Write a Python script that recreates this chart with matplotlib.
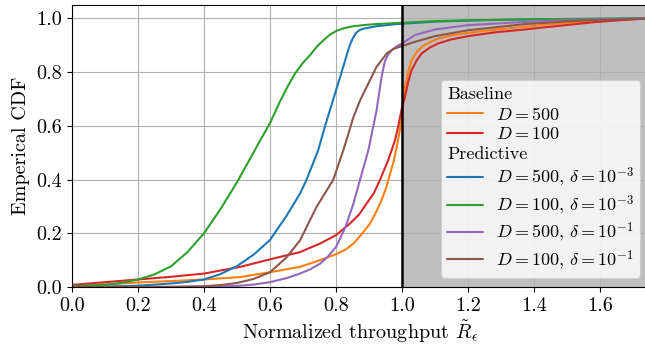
import matplotlib
matplotlib.use("Agg")
import matplotlib.pyplot as plt
from matplotlib.lines import Line2D

plt.rcParams['font.family'] = 'serif'
plt.rcParams['font.serif'] = ['cmr10', 'DejaVu Serif']
plt.rcParams['mathtext.fontset'] = 'cm'
plt.rcParams['axes.formatter.use_mathtext'] = True
plt.rcParams['font.size'] = 14

# ---- data ----
x_orange = [0.0, 0.1, 0.2, 0.3, 0.4, 0.51, 0.6, 0.645, 0.691, 0.752, 0.8, 0.83, 0.853, 0.88, 0.903, 0.922,
            0.938, 0.952, 0.964, 0.975, 0.984, 0.993, 1.0, 1.009, 1.019, 1.029, 1.045, 1.06, 1.085, 1.11,
            1.15, 1.2, 1.28, 1.373, 1.45, 1.54, 1.65, 1.75]
y_orange = [0.003, 0.01, 0.017, 0.022, 0.028, 0.037, 0.055, 0.065, 0.075, 0.1, 0.122, 0.14, 0.162, 0.2,
            0.236, 0.28, 0.323, 0.37, 0.422, 0.47, 0.522, 0.58, 0.64, 0.745, 0.8, 0.845, 0.875, 0.894,
            0.912, 0.925, 0.937, 0.946, 0.958, 0.969, 0.979, 0.987, 0.995, 1.0]

x_red = [0.0, 0.1, 0.2, 0.3, 0.4, 0.51, 0.6, 0.691, 0.752, 0.8, 0.842, 0.87, 0.893, 0.915, 0.933, 0.958,
         0.979, 0.989, 1.0, 1.009, 1.019, 1.029, 1.045, 1.06, 1.085, 1.11, 1.15, 1.2, 1.28, 1.373, 1.44,
         1.52, 1.59, 1.67, 1.75]
y_red = [0.008, 0.018, 0.028, 0.038, 0.05, 0.075, 0.103, 0.13, 0.162, 0.193, 0.236, 0.27, 0.311, 0.35,
         0.398, 0.472, 0.547, 0.6, 0.67, 0.708, 0.765, 0.807, 0.845, 0.87, 0.892, 0.907, 0.922, 0.934,
         0.948, 0.959, 0.968, 0.978, 0.987, 0.994, 1.0]

x_blue = [0.0, 0.1, 0.2, 0.3, 0.35, 0.4, 0.45, 0.5, 0.55, 0.6, 0.65, 0.691, 0.711, 0.746, 0.767, 0.792,
          0.817, 0.828, 0.837, 0.845, 0.853, 0.86, 0.868, 0.878, 0.888, 0.923, 0.984, 1.1, 1.2, 1.4, 1.75]
y_blue = [0.001, 0.002, 0.005, 0.013, 0.019, 0.028, 0.048, 0.078, 0.12, 0.175, 0.265, 0.348, 0.4, 0.509,
          0.6, 0.7, 0.8, 0.845, 0.882, 0.91, 0.931, 0.945, 0.954, 0.96, 0.963, 0.971, 0.979, 0.988, 0.992,
          0.997, 1.0]

x_green = [0.0, 0.1, 0.15, 0.2, 0.25, 0.3, 0.35, 0.4, 0.45, 0.5, 0.565, 0.6, 0.63, 0.655, 0.676, 0.7,
           0.721, 0.742, 0.762, 0.782, 0.802, 0.825, 0.853, 0.89, 0.923, 1.0, 1.1, 1.2, 1.4, 1.75]
y_green = [0.003, 0.008, 0.015, 0.028, 0.047, 0.077, 0.13, 0.2, 0.29, 0.39, 0.534, 0.61, 0.69, 0.75, 0.795,
           0.835, 0.863, 0.895, 0.919, 0.94, 0.954, 0.964, 0.971, 0.976, 0.979, 0.984, 0.99, 0.993, 0.997,
           1.0]

x_purple = [0.0, 0.3, 0.4, 0.45, 0.5, 0.55, 0.6, 0.65, 0.691, 0.722, 0.752, 0.777, 0.8, 0.827, 0.853, 0.873,
            0.898, 0.923, 0.938, 0.948, 0.958, 0.969, 0.984, 1.0, 1.039, 1.1, 1.2, 1.373, 1.5, 1.75]
y_purple = [0.0, 0.0, 0.001, 0.002, 0.004, 0.009, 0.018, 0.033, 0.05, 0.066, 0.087, 0.115, 0.149, 0.218,
            0.311, 0.4, 0.509, 0.658, 0.782, 0.84, 0.866, 0.882, 0.896, 0.907, 0.938, 0.959, 0.975, 0.987,
            0.994, 1.0]

x_brown = [0.0, 0.3, 0.4, 0.45, 0.5, 0.55, 0.6, 0.65, 0.691, 0.741, 0.792, 0.825, 0.853, 0.873, 0.893,
           0.923, 0.954, 0.975, 1.0, 1.039, 1.1, 1.2, 1.373, 1.54, 1.75]
y_brown = [0.0, 0.001, 0.003, 0.007, 0.015, 0.03, 0.055, 0.11, 0.174, 0.298, 0.40, 0.52, 0.633, 0.695,
           0.745, 0.82, 0.87, 0.887, 0.897, 0.913, 0.934, 0.956, 0.979, 0.992, 1.0]

series = [
    ("$D=500$", x_orange, y_orange, "#ff7f0e"),
    ("$D=100$", x_red, y_red, "#d62728"),
    ("$D=500$, $\\delta=10^{-3}$", x_blue, y_blue, "#1f77b4"),
    ("$D=100$, $\\delta=10^{-3}$", x_green, y_green, "#2ca02c"),
    ("$D=500$, $\\delta=10^{-1}$", x_purple, y_purple, "#9467bd"),
    ("$D=100$, $\\delta=10^{-1}$", x_brown, y_brown, "#8c564b"),
]

fig = plt.figure(figsize=(6.45, 3.51), dpi=100)
ax = fig.add_axes([72 / 645, 1 - 287 / 351, (649.5 - 72) / 645, (287 - 5) / 351])

ax.axvspan(1.0, 1.75, color="#bfbfbf", zorder=0, lw=0)
ax.set_axisbelow(True)
ax.grid(True, color="#b0b0b0", lw=0.8)

lines = {}
for lab, xs, ys, c in series:
    l, = ax.plot(xs, ys, color=c, lw=1.5, label=lab, zorder=2,
                 solid_joinstyle="round", solid_capstyle="round")
    lines[lab] = l

ax.axvline(1.0, color="black", lw=1.8, zorder=3)

ax.set_xlim(0, 1.75)
ax.set_ylim(0, 1.05)
ax.set_xticks([0.0, 0.2, 0.4, 0.6, 0.8, 1.0, 1.2, 1.4, 1.6])
ax.set_yticks([0.0, 0.2, 0.4, 0.6, 0.8, 1.0])
ax.set_xticklabels(["0.0", "0.2", "0.4", "0.6", "0.8", "1.0", "1.2", "1.4", "1.6"])
ax.set_yticklabels(["0.0", "0.2", "0.4", "0.6", "0.8", "1.0"])
ax.tick_params(labelsize=14.5)
ax.set_xlabel("Normalized throughput $\\tilde{R}_\\epsilon$", fontsize=14.5, labelpad=3)
ax.set_ylabel("Emperical CDF", fontsize=14.5, labelpad=5)

hdr1 = Line2D([], [], color="none")
hdr2 = Line2D([], [], color="none")
handles = [hdr1, lines[series[0][0]], lines[series[1][0]], hdr2] + [lines[s[0]] for s in series[2:]]
labels = ["Baseline", series[0][0], series[1][0], "Predictive"] + [s[0] for s in series[2:]]
leg = ax.legend(handles, labels, loc="lower right", fontsize=13, handlelength=2.0,
                labelspacing=0.22, borderpad=0.35, borderaxespad=0.5, handletextpad=0.7)
leg.get_frame().set_linewidth(0.8)

# header rows: remove the empty handle space
for vpack in leg._legend_handle_box.get_children():
    for hpack in vpack.get_children():
        kids = hpack.get_children()
        try:
            txt = kids[1].get_children()[0].get_text()
        except Exception:
            txt = ""
        if txt in ("Baseline", "Predictive"):
            kids[0].width = 0
            hpack.sep = 0

fig.savefig("out.png", dpi=100)
